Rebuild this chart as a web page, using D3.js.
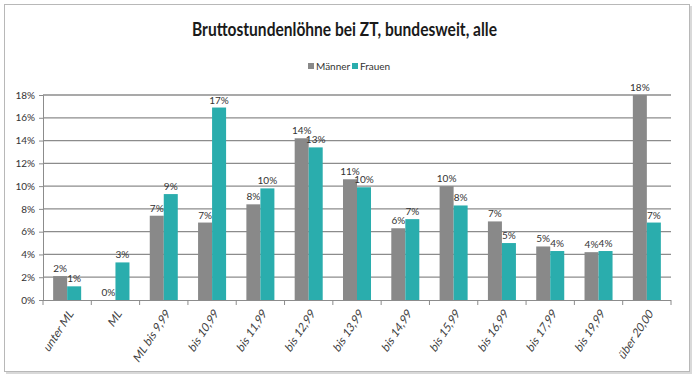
<!DOCTYPE html>
<html>
<head>
<meta charset="utf-8">
<script src="https://cdn.jsdelivr.net/npm/d3@7"></script>
<style>
  body { margin: 0; background: #fff; }
  svg text { font-family: Lato, "Open Sans", sans-serif; }
</style>
</head>
<body>
<div id="chart"></div>
<script>
// categories and shares (in %)
const categories = ["unter ML", "ML", "ML bis 9,99", "bis 10,99", "bis 11,99", "bis 12,99", "bis 13,99",
  "bis 14,99", "bis 15,99", "bis 16,99", "bis 17,99", "bis 19,99", "über 20,00"];
const maenner = [2.1, 0, 7.4, 6.8, 8.4, 14.2, 10.6, 6.3, 10.0, 6.9, 4.7, 4.2, 18.0];
const frauen = [1.2, 3.3, 9.3, 16.9, 9.8, 13.4, 9.9, 7.1, 8.3, 5.0, 4.3, 4.3, 6.8];
const series = ["Männer", "Frauen"];
const yTicks = [0, 2, 4, 6, 8, 10, 12, 14, 16, 18];

const W = 694, H = 380;
const colors = { "Männer": "#898989", "Frauen": "#2aadad" };

const svg = d3.select("#chart").append("svg").attr("width", W).attr("height", H);

// frame with soft shadow
svg.append("rect").attr("x", 6).attr("y", 6).attr("width", 686).attr("height", 368).attr("fill", "#d9d9d9");
svg.append("rect").attr("x", 4.5).attr("y", 4.5).attr("width", 685).attr("height", 367)
  .attr("fill", "#fff").attr("stroke", "#b8b8b8");

svg.append("text").attr("x", 192).attr("y", 36)
  .attr("textLength", 305).attr("lengthAdjust", "spacingAndGlyphs")
  .style("font-size", "19px").style("font-weight", "bold").attr("fill", "#1a1a1a")
  .text("Bruttostundenlöhne bei ZT, bundesweit, alle");

const x = d3.scaleBand().domain(categories).range([43, 671]).paddingInner(0.42).paddingOuter(0.21);
const x1 = d3.scaleBand().domain(series).range([0, x.bandwidth()]);
const y = d3.scaleLinear().domain([0, 18]).range([300, 95]);

// gridlines
svg.append("g").selectAll("line").data(yTicks.slice(1)).join("line")
  .attr("x1", 43).attr("x2", 671).attr("y1", d => y(d)).attr("y2", d => y(d))
  .attr("stroke", "#8c8c8c").attr("stroke-width", 1.3);

// y axis
const yAxis = svg.append("g").attr("transform", "translate(43,0)")
  .call(d3.axisLeft(y).tickValues(yTicks).tickFormat(d => d + "%").tickSize(4).tickPadding(4));
yAxis.select(".domain").attr("stroke", "#8c8c8c");
yAxis.selectAll(".tick line").attr("stroke", "#8c8c8c");
yAxis.selectAll("text").style("font-size", "10px").attr("fill", "#333");

// bars
const rows = categories.map((c, i) => ({ cat: c, vals: [{ s: "Männer", v: maenner[i] }, { s: "Frauen", v: frauen[i] }] }));
const groups = svg.append("g").selectAll("g").data(rows).join("g")
  .attr("transform", d => `translate(${x(d.cat)},0)`);
groups.selectAll("rect").data(d => d.vals).join("rect")
  .attr("x", d => x1(d.s)).attr("width", x1.bandwidth())
  .attr("y", d => y(d.v)).attr("height", d => y(0) - y(d.v))
  .attr("fill", d => colors[d.s]);
groups.selectAll("text").data(d => d.vals).join("text")
  .attr("x", d => x1(d.s) + x1.bandwidth() / 2).attr("y", d => y(d.v) - 4)
  .attr("text-anchor", "middle").style("font-size", "10px").attr("fill", "#333")
  .text(d => Math.round(d.v) + "%");

// x axis with ticks between categories
const step = x.step();
const xAxis = svg.append("g");
xAxis.append("line").attr("x1", 43).attr("x2", 671).attr("y1", 300.5).attr("y2", 300.5).attr("stroke", "#8c8c8c");
xAxis.selectAll(".tk").data(d3.range(categories.length + 1)).join("line").attr("class", "tk")
  .attr("x1", i => 43 + i * step).attr("x2", i => 43 + i * step)
  .attr("y1", 300).attr("y2", 305).attr("stroke", "#8c8c8c");
// italic look forced with a skew, since the italic face may be missing
xAxis.selectAll("text").data(categories).join("text")
  .attr("transform", d => `translate(${x(d) + x.bandwidth() / 2 + 4},311) rotate(-57) skewX(-14)`)
  .attr("text-anchor", "end").attr("dy", "0.35em")
  .style("font-size", "11.5px").attr("fill", "#404040")
  .text(d => d);

// legend
const leg = svg.append("g").attr("transform", "translate(308,67)");
const li = leg.selectAll("g").data(series).join("g").attr("transform", (d, i) => `translate(${i * 44},0)`);
li.append("rect").attr("x", 0).attr("y", -4).attr("width", 6).attr("height", 6).attr("fill", d => colors[d]);
li.append("text").attr("x", 8).attr("y", 0).attr("dy", "0.32em").style("font-size", "10px").attr("fill", "#333").text(d => d);
</script>
</body>
</html>
